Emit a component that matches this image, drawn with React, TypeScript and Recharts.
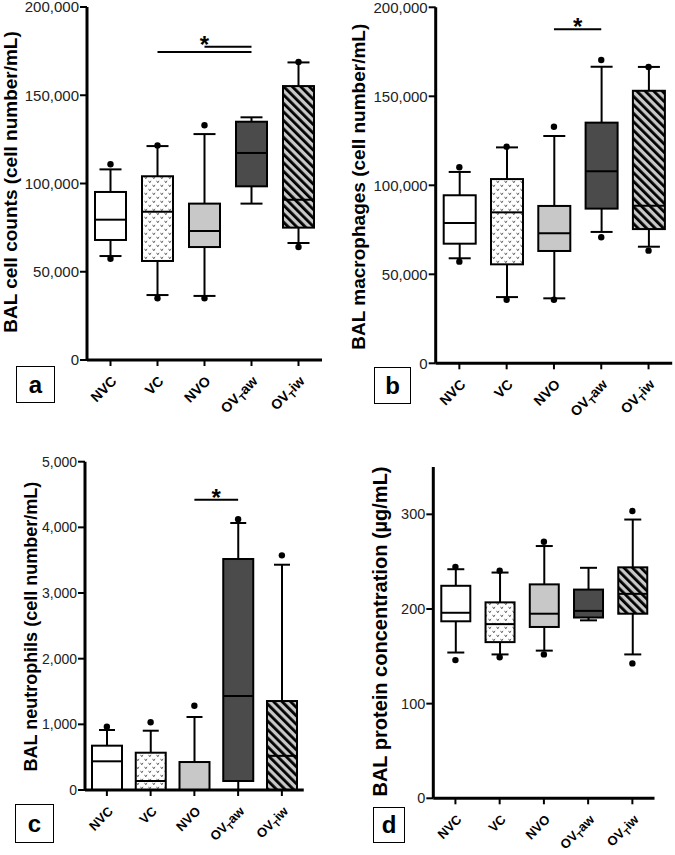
import React from 'react';
import { ComposedChart, Bar, Scatter, XAxis, YAxis, ReferenceLine } from 'recharts';

const categories = ['NVC', 'VC', 'NVO', 'OVTaw', 'OVTiw'];

// Panel a: BAL cell counts
const aMin = [58900, 36800, 36300, 88600, 66300];
const aQ1 = [68000, 56100, 64000, 98400, 75000];
const aMed = [79500, 84000, 73100, 117300, 90800];
const aQ3 = [95200, 104100, 88600, 135000, 155200];
const aMax = [108000, 121200, 128000, 137500, 168600];
const aHi = [110900, 121600, 133000, null, 168800];
const aLo = [57400, 35000, 35000, null, 64000];

// Panel b: BAL macrophages
const bMin = [59000, 37200, 36500, 73800, 65500];
const bQ1 = [67200, 55600, 63100, 86900, 75400];
const bMed = [78800, 84800, 73000, 107900, 88500];
const bQ3 = [94400, 103500, 88400, 135200, 153100];
const bMax = [107500, 121300, 127700, 166600, 166500];
const bHi = [110100, 121700, 132900, 170400, 166500];
const bLo = [57100, 35700, 35700, 70800, 63300];

// Panel c: BAL neutrophils
const cMin = [0, 0, 0, 0, 0];
const cQ1 = [0, 0, 0, 137, 0];
const cMed = [437, 137, 0, 1432, 520];
const cQ3 = [675, 568, 426, 3518, 1355];
const cMax = [914, 903, 1112, 4066, 3431];
const cHi = [964, 1031, 1284, 4123, 3574];
const cLo = [null, null, null, null, null];

// Panel d: BAL protein concentration
const dMin = [154, 152, 156, 188, 152];
const dQ1 = [187, 165, 181, 191, 195];
const dMed = [196, 184, 195, 198, 216];
const dQ3 = [224.5, 207, 226, 220.5, 244];
const dMax = [242, 238.5, 266.5, 243.5, 294.5];
const dHi = [244.5, 240.5, 271, null, 303.5];
const dLo = [146, 149, 152, null, 142.5];

const aTicks = [0, 50000, 100000, 150000, 200000];
const bTicks = [0, 50000, 100000, 150000, 200000];
const cTicks = [0, 1000, 2000, 3000, 4000, 5000];
const dTicks = [0, 100, 200, 300];

const aSig = [
  { from: 'VC', to: 'OVTaw', y: 174500, star: true },
  { from: 'NVO', to: 'OVTaw', y: 177500, star: false },
];
const bSig = [{ from: 'NVO', to: 'OVTaw', y: 187600, star: true }];
const cSig = [{ from: 'NVO', to: 'OVTaw', y: 4420, star: true }];

const FONT = '"Liberation Sans", Arial, Helvetica, sans-serif';
const fills = ['#ffffff', 'url(#vpat)', '#c8c8c8', '#4b4b4b', 'url(#stripe)'];

type Row = {
  name: string; min: number; q1: number; med: number; q3: number; max: number;
  hi: number | null; lo: number | null;
};

const buildRows = (mn: number[], q1: number[], md: number[], q3: number[], mx: number[], hi: (number | null)[], lo: (number | null)[]): Row[] =>
  categories.map((name, i) => ({ name, min: mn[i], q1: q1[i], med: md[i], q3: q3[i], max: mx[i], hi: hi[i], lo: lo[i] }));

const fmt = (v: number) => v.toLocaleString('en-US');

const makeBoxShape = (capW: number) => (p: any) => {
  const d: Row = p.payload;
  const top = Math.min(p.y, p.y + p.height);
  const bot = Math.max(p.y, p.y + p.height);
  const range = d.max - d.min;
  const pix = (v: number) => bot - ((v - d.min) / range) * (bot - top);
  const cx = p.x + p.width / 2;
  const fill = fills[p.index % fills.length];
  return (
    <g>
      <line x1={cx} x2={cx} y1={pix(d.max)} y2={pix(d.min)} stroke="#000" strokeWidth={2} />
      <line x1={cx - capW / 2} x2={cx + capW / 2} y1={pix(d.max)} y2={pix(d.max)} stroke="#000" strokeWidth={2} />
      <line x1={cx - capW / 2} x2={cx + capW / 2} y1={pix(d.min)} y2={pix(d.min)} stroke="#000" strokeWidth={2} />
      <rect x={p.x} y={pix(d.q3)} width={p.width} height={pix(d.q1) - pix(d.q3)} fill={fill} stroke="#000" strokeWidth={2} />
      <line x1={p.x} x2={p.x + p.width} y1={pix(d.med)} y2={pix(d.med)} stroke="#000" strokeWidth={2} />
    </g>
  );
};

const dotShape = (key: 'hi' | 'lo') => (p: any) => {
  if (p.payload == null || p.payload[key] == null || !Number.isFinite(p.cy)) return <g />;
  return <circle cx={p.cx} cy={p.cy} r={3.2} fill="#000" />;
};

const XTick = (props: any) => {
  const fs: number = props.fs ?? 14;
  const v = String(props.payload?.value ?? '');
  const ax = Number(props.x) + 7;
  const ay = Number(props.y) + 14;
  const isOV = v.startsWith('OVT');
  return (
    <text
      x={ax}
      y={ay}
      transform={`rotate(-45, ${ax}, ${ay})`}
      textAnchor="end"
      fontSize={fs}
      fontWeight="bold"
      fill="#000"
      fontFamily={FONT}
    >
      {isOV ? (
        <>
          <tspan>OV</tspan>
          <tspan fontSize={fs * 0.72} dy={fs * 0.25}>T</tspan>
          <tspan dy={-fs * 0.25}>{v.slice(3)}</tspan>
        </>
      ) : v}
    </text>
  );
};

type PanelProps = {
  rows: Row[]; width: number; height: number; margin: any; yW: number; xH: number;
  domain: [number, number]; ticks: number[]; tickFs: number; xFs: number; boxW: number; capW: number;
  yLabel: string; labX: number; labY: number; labFs: number;
  sig: { from: string; to: string; y: number; star: boolean }[]; lift: number;
};

const Panel = (pp: PanelProps) => {
  const starFs = 24;
  return (
    <ComposedChart width={pp.width} height={pp.height} data={pp.rows} margin={pp.margin}>
      <XAxis
        dataKey="name"
        type="category"
        height={pp.xH}
        interval={0}
        tickSize={6}
        tickLine={{ stroke: '#000', strokeWidth: 2 }}
        axisLine={{ stroke: '#000', strokeWidth: 3 }}
        tick={<XTick fs={pp.xFs} />}
      />
      <YAxis
        type="number"
        width={pp.yW}
        domain={pp.domain}
        ticks={pp.ticks}
        interval={0}
        tickSize={7}
        tickMargin={1}
        tickFormatter={fmt}
        tickLine={{ stroke: '#000', strokeWidth: 2 }}
        axisLine={{ stroke: '#000', strokeWidth: 3 }}
        tick={{ fontSize: pp.tickFs, fill: '#222', fontFamily: FONT }}
        label={{
          content: () => (
            <text
              x={pp.labX}
              y={pp.labY}
              transform={`rotate(-90, ${pp.labX}, ${pp.labY})`}
              textAnchor="middle"
              fontSize={pp.labFs}
              fontWeight="bold"
              fill="#000"
              fontFamily={FONT}
            >
              {pp.yLabel}
            </text>
          ),
        }}
      />
      <Bar
        dataKey={(r: Row) => [r.min, r.max]}
        barSize={pp.boxW}
        shape={makeBoxShape(pp.capW)}
        isAnimationActive={false}
      />
      <Scatter dataKey="hi" shape={dotShape('hi')} isAnimationActive={false} />
      <Scatter dataKey="lo" shape={dotShape('lo')} isAnimationActive={false} />
      {pp.sig.map((s, i) => (
        <ReferenceLine
          key={i}
          segment={[{ x: s.from, y: s.y }, { x: s.to, y: s.y }]}
          stroke="#000"
          strokeWidth={2}
          ifOverflow="visible"
          label={
            s.star
              ? {
                  content: (lp: any) => {
                    const vb = lp.viewBox || {};
                    const cx = (vb.x ?? 0) + (vb.width ?? 0) / 2;
                    const cy = (vb.y ?? 0) - pp.lift + 0.56 * starFs;
                    return (
                      <text x={cx} y={cy} textAnchor="middle" fontSize={starFs} fontWeight="bold" fill="#000" fontFamily={FONT}>
                        *
                      </text>
                    );
                  },
                }
              : undefined
          }
        />
      ))}
    </ComposedChart>
  );
};

const LetterBox = ({ left, top, w, h, letter }: { left: number; top: number; w: number; h: number; letter: string }) => (
  <div
    style={{
      position: 'absolute', left, top, width: w, height: h, boxSizing: 'border-box',
      border: '1.5px solid #000', background: '#fff', display: 'flex', alignItems: 'center',
      justifyContent: 'center', fontFamily: FONT, fontWeight: 'bold', fontSize: 24, lineHeight: 1, color: '#000',
    }}
  >
    {letter}
  </div>
);

export default function App() {
  const aRows = buildRows(aMin, aQ1, aMed, aQ3, aMax, aHi, aLo);
  const bRows = buildRows(bMin, bQ1, bMed, bQ3, bMax, bHi, bLo);
  const cRows = buildRows(cMin, cQ1, cMed, cQ3, cMax, cHi, cLo);
  const dRows = buildRows(dMin, dQ1, dMed, dQ3, dMax, dHi, dLo);
  return (
    <div style={{ position: 'absolute', left: 0, top: 0, width: 675, height: 855, background: '#fff', overflow: 'hidden', fontFamily: FONT }}>
      <svg width={0} height={0} style={{ position: 'absolute' }}>
        <defs>
          <pattern id="vpat" patternUnits="userSpaceOnUse" width={8} height={8}>
            <rect x={0} y={0} width={8} height={8} fill="#fff" />
            <path d="M0.6 0.8 L1.8 2.8 L3 0.8" stroke="#555" strokeWidth={0.9} fill="none" />
            <path d="M4.6 4.8 L5.8 6.8 L7 4.8" stroke="#555" strokeWidth={0.9} fill="none" />
          </pattern>
          <pattern id="stripe" patternUnits="userSpaceOnUse" width={6} height={6} patternTransform="rotate(-45)">
            <rect x={0} y={0} width={6} height={6} fill="#c8c8c8" />
            <rect x={0} y={0} width={2.8} height={6} fill="#000" />
          </pattern>
        </defs>
      </svg>
      <div style={{ position: 'absolute', left: 0, top: 0 }}>
        <Panel rows={aRows} width={340} height={430} margin={{ top: 7, right: 18, left: 0, bottom: 0 }} yW={87} xH={70}
          domain={[0, 200000]} ticks={aTicks} tickFs={15} xFs={14} boxW={31} capW={22}
          yLabel="BAL cell counts (cell number/mL)" labX={17.3} labY={182} labFs={19} sig={aSig} lift={12.7} />
      </div>
      <div style={{ position: 'absolute', left: 340, top: 0 }}>
        <Panel rows={bRows} width={335} height={430} margin={{ top: 7.3, right: 2.8, left: 0, bottom: 0 }} yW={95.7} xH={66.7}
          domain={[0, 200000]} ticks={bTicks} tickFs={15} xFs={14} boxW={32} capW={22}
          yLabel="BAL macrophages (cell number/mL)" labX={25} labY={186.7} labFs={19} sig={bSig} lift={7.6} />
      </div>
      <div style={{ position: 'absolute', left: 0, top: 430 }}>
        <Panel rows={cRows} width={340} height={425} margin={{ top: 31.7, right: 36.25, left: 0, bottom: 0 }} yW={85} xH={65}
          domain={[0, 5000]} ticks={cTicks} tickFs={14} xFs={13} boxW={30} capW={16}
          yLabel="BAL neutrophils (cell number/mL)" labX={37.3} labY={196.7} labFs={18} sig={cSig} lift={7.7} />
      </div>
      <div style={{ position: 'absolute', left: 340, top: 430 }}>
        <Panel rows={dRows} width={335} height={425} margin={{ top: 37, right: 20.5, left: 0, bottom: 0 }} yW={93.3} xH={56.7}
          domain={[0, 350]} ticks={dTicks} tickFs={14.5} xFs={13} boxW={29} capW={17}
          yLabel="BAL protein concentration (µg/mL)" labX={46.7} labY={201.5} labFs={20} sig={[]} lift={0} />
      </div>
      <LetterBox left={16} top={366} w={39} h={37} letter="a" />
      <LetterBox left={374} top={367} w={37} h={37} letter="b" />
      <LetterBox left={15} top={804} w={39} h={39} letter="c" />
      <LetterBox left={373} top={807} w={32} h={36} letter="d" />
    </div>
  );
}
